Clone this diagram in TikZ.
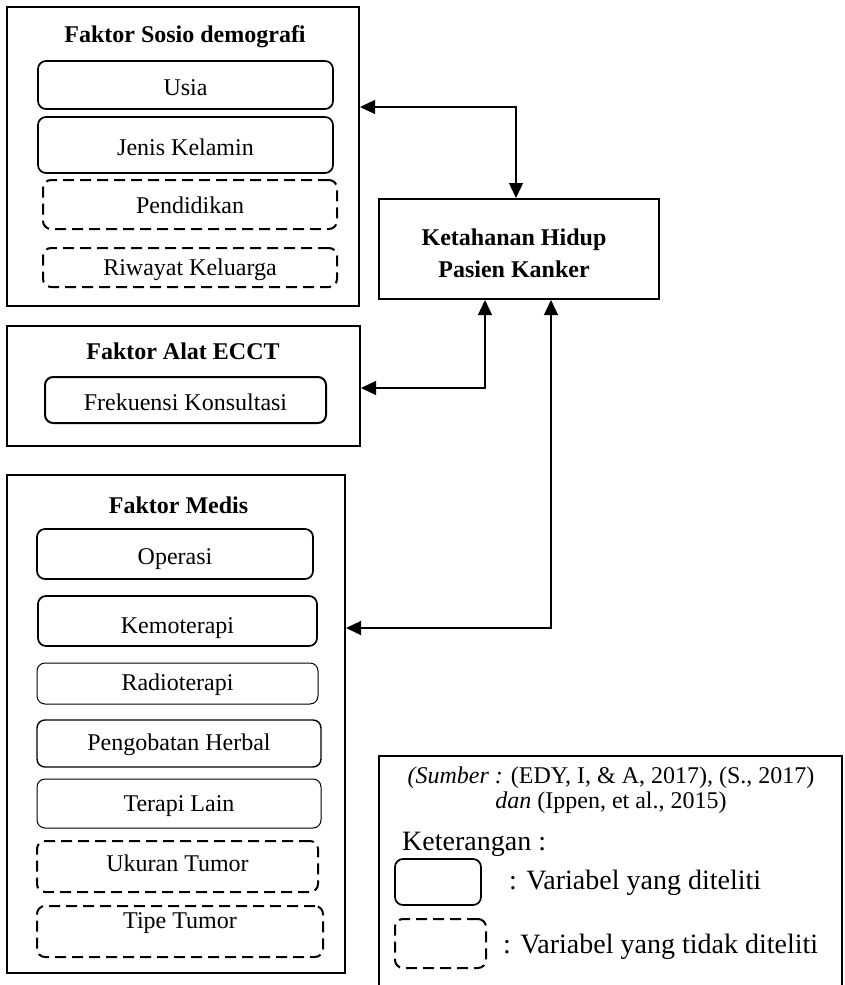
\documentclass[tikz,border=0pt]{standalone}
\usepackage{fontspec}
\setmainfont{Liberation Serif}
\usetikzlibrary{arrows.meta}
\begin{document}
\begin{tikzpicture}[x=1pt,y=-1pt,
  outerbox/.style={draw, line width=2pt, inner sep=0pt},
  var/.style={draw, rounded corners=8pt, line width=1.7pt, inner sep=0pt,
    font=\fontsize{24}{28}\selectfont, text depth=12pt},
  novar/.style={var, line width=2pt, dash pattern=on 11pt off 6pt},
  thinbox/.style={line width=1pt},
  ttl/.style={anchor=base, inner sep=0pt, font=\fontsize{24}{28}\selectfont\bfseries},
  txt/.style={anchor=base, inner sep=0pt, font=\fontsize{24}{28}\selectfont},
  lgtxt/.style={anchor=base west, inner sep=0pt, font=\fontsize{28}{32}\selectfont},
  arr/.style={{Triangle[length=15pt,width=14pt]}-{Triangle[length=15pt,width=14pt]}, line width=1.3pt}
]
\useasboundingbox (0,0) rectangle (844,985);

% Faktor Sosio demografi
\node[outerbox, minimum width=352pt, minimum height=299pt] (sosio) at (183,156.5) {};
\node[ttl] (sosiot) at (185,42) {Faktor Sosio demografi};
\node[var, text height=32pt, minimum width=295pt, minimum height=48pt] (usia) at (185.5,85) {Usia};
\node[var, text height=32pt, minimum width=295pt, minimum height=56pt] (jenis) at (185.5,145) {Jenis Kelamin};
\node[novar, text height=29pt, minimum width=294pt, minimum height=49pt] (pend) at (190,204.5) {Pendidikan};
\node[novar, text height=27pt, minimum width=294pt, minimum height=39pt] (riw) at (190,267.5) {Riwayat Keluarga};

% Ketahanan Hidup
\node[outerbox, minimum width=280pt, minimum height=100pt] (ket) at (519,249) {};
\node[ttl] (ket1) at (514,245.5) {Ketahanan Hidup};
\node[ttl] (ket2) at (514,277) {Pasien Kanker};

% Faktor Alat ECCT
\node[outerbox, minimum width=353pt, minimum height=120pt] (eccto) at (183.5,386) {};
\node[ttl] (eccttl) at (183,359) {Faktor Alat ECCT};
\node[var, line width=2pt, text height=33pt, minimum width=281pt, minimum height=46pt] (frek) at (185.5,400) {Frekuensi Konsultasi};

% Faktor Medis
\node[outerbox, minimum width=338pt, minimum height=498pt] (medis) at (176,724) {};
\node[ttl] (medist) at (178.5,513) {Faktor Medis};
\node[var, text height=33pt, minimum width=276pt, minimum height=50pt] (oper) at (175,554) {Operasi};
\node[var, text height=36pt, minimum width=279pt, minimum height=50pt] (kemo) at (177.5,621) {Kemoterapi};
\node[var, thinbox, text height=25pt, minimum width=281pt, minimum height=41pt] (radio) at (177.5,683.5) {Radioterapi};
\node[var, line width=1.4pt, text height=25pt, minimum width=284pt, minimum height=47pt] (herbal) at (179,743.5) {Pengobatan Herbal};
\node[var, thinbox, text height=28pt, minimum width=284pt, minimum height=49pt] (lain) at (179,803.5) {Terapi Lain};
\node[novar, text height=22pt, minimum width=281pt, minimum height=51pt] (ukuran) at (177.5,866.5) {Ukuran Tumor};
\node[novar, text height=5pt, minimum width=286pt, minimum height=51pt] (tipe) at (180,931.5) {Tipe Tumor};

% connectors
\coordinate (c1) at (516,107);
\coordinate (c2) at (485,388);
\coordinate (c3) at (551,628);
\draw[arr] (sosio.east |- c1) -| (ket.north -| c1);
\draw[arr] (eccto.east |- c2) -| (ket.south -| c2);
\draw[arr] (medis.east |- c3) -| (ket.south -| c3);

% legend
\draw[line width=1.3pt] (379,985) -- (379,756) -- (842,756) -- (842,985);
\node[txt] (src1) at (611,783) {\textit{(Sumber :} (EDY, I, \& A, 2017)\textit{,} (S., 2017)};
\node[txt] (src2) at (611,808) {\textit{dan} (Ippen, et al., 2015)};
\node[lgtxt] (ketr) at (402,850) {Keterangan :};
\node[var, text height=0pt, text depth=0pt, minimum width=86pt, minimum height=46pt] (lg1) at (438,882) {};
\node[lgtxt] (lg1t) at (509,889) {: Variabel yang diteliti};
\node[novar, text height=0pt, text depth=0pt, minimum width=91pt, minimum height=49pt] (lg2) at (440.5,943.5) {};
\node[lgtxt] (lg2t) at (503,953) {: Variabel yang tidak diteliti};
\end{tikzpicture}
\end{document}
